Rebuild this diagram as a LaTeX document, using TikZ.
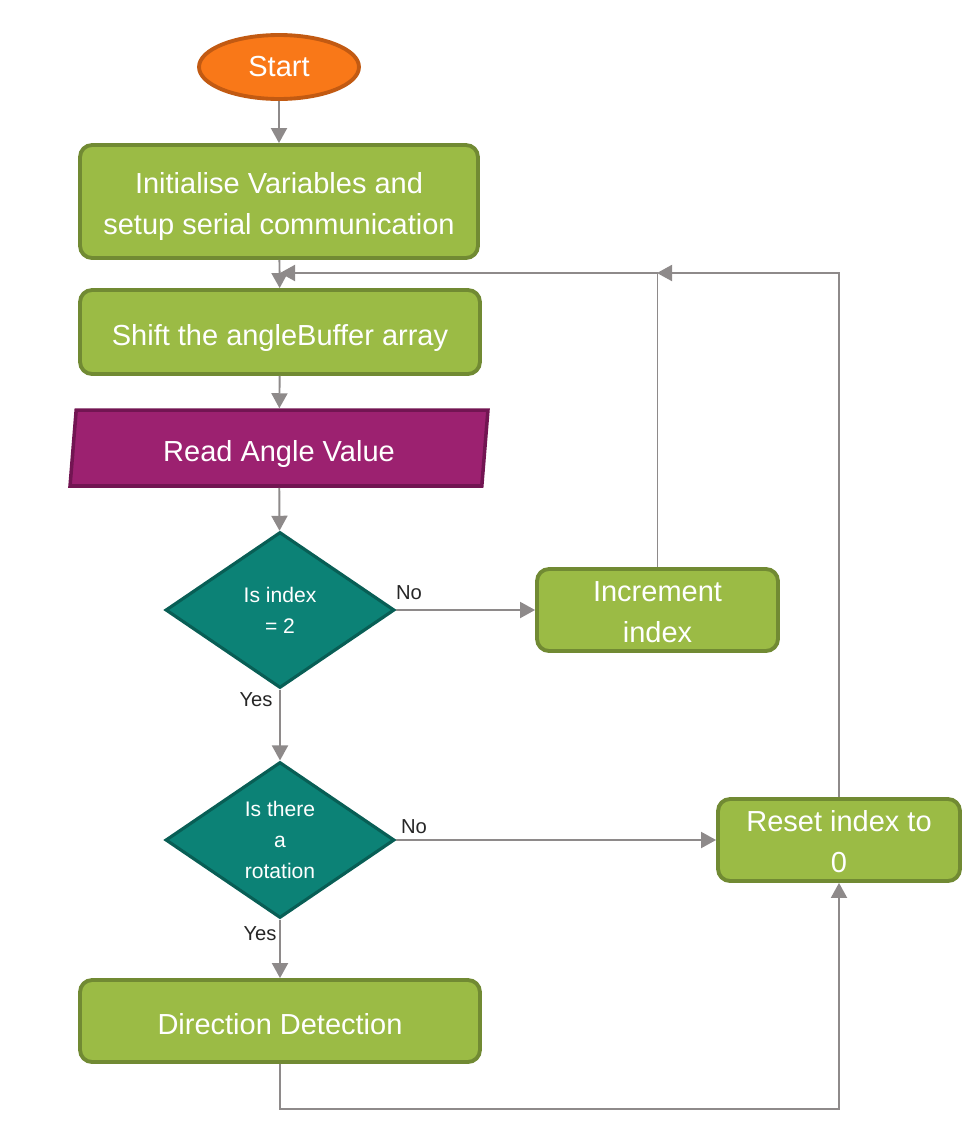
\documentclass[tikz,border=0pt]{standalone}
\usepackage{fontspec}
\setmainfont{Liberation Sans}
\usetikzlibrary{shapes.geometric,arrows.meta}
\definecolor{procFill}{HTML}{9BBB45}
\definecolor{procLine}{HTML}{718A33}
\definecolor{startFill}{HTML}{F97818}
\definecolor{startLine}{HTML}{C25A12}
\definecolor{ioFill}{HTML}{9C2170}
\definecolor{ioLine}{HTML}{721552}
\definecolor{decFill}{HTML}{0C8276}
\definecolor{decLine}{HTML}{085E55}
\definecolor{flowGray}{HTML}{8E8A8A}
\newcommand{\bigtext}{\fontsize{16.5}{23.5}\selectfont}
\tikzset{
  procbox/.style={draw=procLine, fill=procFill, line width=2.2pt, rounded corners=0.24cm,
    text=white, align=center, font=\bigtext, inner sep=0pt},
  oneline/.style={text height=14.8pt, text depth=0pt},
  twoline/.style={text height=37.5pt, text depth=0pt},
  startbox/.style={ellipse, draw=startLine, fill=startFill, line width=2.2pt,
    text=white, font=\bigtext, inner sep=0pt, minimum width=3.2cm, minimum height=1.28cm},
  iobox/.style={trapezium, trapezium left angle=76.7, trapezium right angle=103.3,
    trapezium stretches body, draw=ioLine, fill=ioFill, line width=2pt, text=white,
    font=\bigtext, inner sep=0pt, minimum width=8.36cm, minimum height=1.52cm},
  decbox/.style={diamond, aspect=1.47, draw=decLine, fill=decFill, line width=1.8pt,
    text=white, align=center, font=\fontsize{12}{17.6}\selectfont, inner sep=0pt,
    minimum width=4.58cm, minimum height=3.12cm},
  flow/.style={draw=flowGray, line width=1.1pt, -{Triangle[length=0.3cm,width=0.32cm]}},
  lbl/.style={text=black!85, font=\fontsize{11.5}{14}\selectfont, inner sep=0pt}
}
\begin{document}
\begin{tikzpicture}[x=0.02cm, y=-0.02cm]
  \useasboundingbox (0,0) rectangle (974,1143);

  % main column
  \node[startbox] (start) at (279,67) {Start};
  \node[procbox, twoline, minimum width=7.96cm, minimum height=2.26cm] (init) at (279,201.5)
    {Initialise Variables and\\setup serial communication};
  \node[procbox, oneline, minimum width=8cm, minimum height=1.68cm] (shift) at (280,332)
    {Shift the angleBuffer array};
  \node[iobox, oneline] (read) at (279,448) {Read Angle Value};
  \node[decbox] (idx) at (280,610) {Is index\\= 2};
  \node[decbox] (rot) at (280,840) {Is there\\a\\rotation};
  \node[procbox, oneline, minimum width=8cm, minimum height=1.64cm] (dir) at (280,1021)
    {Direction Detection};

  % right side boxes
  \node[procbox, twoline, minimum width=4.82cm, minimum height=1.64cm] (incr) at (657.5,610)
    {Increment\\index};
  \node[procbox, twoline, minimum width=4.84cm, minimum height=1.64cm] (reset) at (839,840)
    {Reset index to\\0};

  % loop points
  \coordinate (merge) at (280,273);
  \coordinate (merge2) at (657,273);
  \coordinate (bend) at (280,1109);

  % connectors
  \draw[flow] (start) -- (init);
  \draw[flow] (init) -- (shift);
  \draw[flow] (shift) -- (read);
  \draw[flow] (read) -- (idx);
  \draw[flow] (idx.east) -- (incr.west);
  \draw[flow] (idx.south) -- (rot.north);
  \draw[flow] (rot.east) -- (reset.west);
  \draw[flow] (rot.south) -- (dir.north);
  \draw[flow] (incr.north) |- (merge);
  \draw[flow] (reset.north) |- (merge2);
  \draw[flow] (dir.south) -- (bend) -| (reset.south);

  % yes / no labels
  \node[lbl] (no1) at (409,593) {No};
  \node[lbl] (yes1) at (256,700) {Yes};
  \node[lbl] (no2) at (414,827) {No};
  \node[lbl] (yes2) at (260,934) {Yes};
\end{tikzpicture}
\end{document}
